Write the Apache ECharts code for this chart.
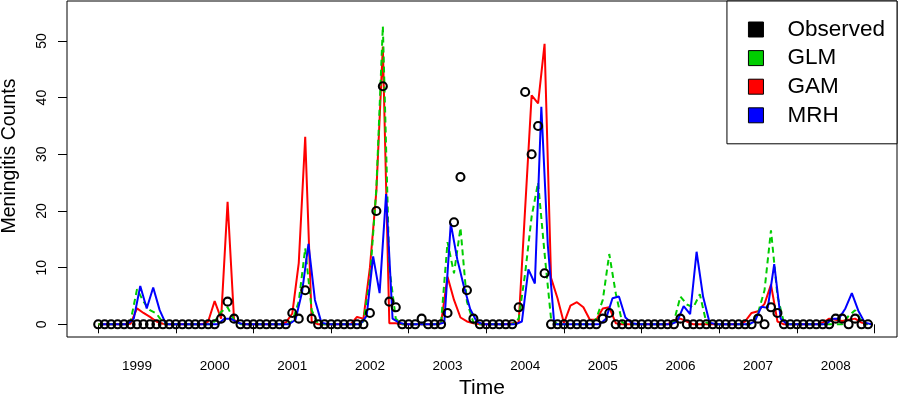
<!DOCTYPE html>
<html>
<head>
<meta charset="utf-8">
<script src="https://cdn.jsdelivr.net/npm/echarts@6/dist/echarts.min.js"></script>
<style>html,body{margin:0;padding:0;background:#fff}#c{width:899px;height:399px}</style>
</head>
<body>
<div id="c"></div>
<script>
// Tick labels
const yearLabels = ['1999','2000','2001','2002','2003','2004','2005','2006','2007','2008'];
const yTicks = [0, 10, 20, 30, 40, 50];
const startYear = 1999;

// Monthly observed meningitis counts, Jan 1999 .. Dec 2008 (one row per year)
const observed = [
  0,0,0,0,0,0,0,0,0,0,0,0,
  0,0,0,0,0,0,0,1,4,1,0,0,
  0,0,0,0,0,0,2,1,6,1,0,0,
  0,0,0,0,0,0,2,20,42,4,3,0,
  0,0,1,0,0,0,2,18,26,6,1,0,
  0,0,0,0,0,3,41,30,35,9,0,0,
  0,0,0,0,0,0,1,2,0,0,0,0,
  0,0,0,0,0,0,1,0,0,0,0,0,
  0,0,0,0,0,0,1,0,3,2,0,0,
  0,0,0,0,0,0,1,1,0,1,0,0
];
// GLM predictions
const glm = [
  0,0,0,0,0,0.5,6.2,4.0,2.5,1.9,0.3,0,
  0,0,0,0,0,0,0.5,2.2,3.0,0.8,0,0,
  0,0,0,0,0,0,0.5,4.0,13.4,2.5,0,0,
  0,0,0,0,0,0.5,8,24,52.6,10,1,0,
  0,0,0,0,0,0.3,14.5,9,17,4,0.3,0,
  0,0,0,0,0,1,9,19,25,12.5,1,0,
  0,0,0,0,0,1,4.3,12.4,5.5,0.3,0,0,
  0,0,0,0,0,0.5,4.9,3.5,3.0,5.3,0.3,0,
  0,0,0,0,0,0,2,6,16.6,5,0.3,0,
  0,0,0,0,0,0,0,0,1.5,2.5,0.5,0
];
// GAM predictions
const gam = [
  0,0,0,0,0,0.1,2.8,2.0,1.3,0.5,0.1,0,
  0,0,0,0,0,0.5,4.1,1.0,21.6,0.8,0.1,0,
  0,0,0,0,0,0.3,1.9,10.8,33.1,0.5,0,0,
  0,0,0,0,1.3,1.0,10,23.5,49,0.2,0.2,0,
  0,0,0,0,0,0.2,8.4,4.3,1.2,0.5,0.2,0,
  0,0,0,0,0.2,0.3,20.5,40.4,39,49.5,8.2,4.6,
  0.2,3.3,3.9,3.0,0.8,0.8,2.8,3.0,0.2,0,0,0,
  0,0,0,0,0,0.7,1.0,0.5,0,0,0,0,
  0,0,0,0,0.5,2.0,2.3,3.6,7.0,0.5,0,0,
  0,0,0,0,0.3,1.0,0.8,0.6,0.8,1.0,0.3,0
];
// MRH predictions (plotted at mid-month)
const mrh = [
  0,0,0,0,0,1.0,6.75,2.8,6.5,2.5,0,0,
  0,0,0,0,0,0,0,1,1,0.3,0,0,
  0,0,0,0,0,0,0.8,5.6,14.2,4.3,0.3,0,
  0,0,0,0,0,1.5,12,5.5,23,1,0.3,0,
  0,0,0,0,0,0.3,17.8,11.5,6.8,2.7,0.5,0,
  0,0,0,0,0,0.5,9.7,7.2,38.4,14,0,0,
  0,0,0,0,0,0,1,4.6,4.9,1.2,0.2,0,
  0,0,0,0,0,0.5,3.2,1.8,12.8,4.9,0.3,0,
  0,0,0,0,0,0.5,3.1,2.9,10.6,1.0,0,0,
  0,0,0,0,0,1,1,2.8,5.5,2.4,0.3,0
];

const FONT = "'Liberation Sans', Arial, Helvetica, sans-serif";
const monthTime = (i, off) => startYear + (i + off) / 12;
const pairs = (arr, off) => arr.map((v, i) => [monthTime(i, off), v]);
const tickYears = yearLabels.map(y => +y).concat([+yearLabels[yearLabels.length - 1] + 1]);
const labelPos = yearLabels.map(y => +y + 0.5);

const chart = echarts.init(document.getElementById('c'), null, {renderer: 'canvas'});
chart.setOption({
  animation: false,
  backgroundColor: '#fff',
  grid: {left: 67, right: 2, top: 1, bottom: 62, show: true, borderColor: '#000', borderWidth: 1, backgroundColor: 'transparent', containLabel: false, outerBoundsMode: 'none'},
  xAxis: {
    type: 'value', min: 1998.598, max: 2009.29,
    axisLine: {show: false}, splitLine: {show: false},
    axisTick: {show: true, length: 9, inside: false, lineStyle: {color: '#000', width: 1}, customValues: tickYears},
    axisLabel: {customValues: labelPos, formatter: v => yearLabels[Math.round(v - 0.5) - startYear], margin: 22, fontSize: 13.5, color: '#000', fontFamily: FONT},
    name: 'Time', nameLocation: 'middle', nameGap: 40,
    nameTextStyle: {fontSize: 21, color: '#000', fontFamily: FONT}
  },
  yAxis: {
    type: 'value', min: -2.24, max: 57.05,
    axisLine: {show: false}, splitLine: {show: false},
    axisTick: {show: true, length: 9, inside: false, lineStyle: {color: '#000', width: 1}, customValues: yTicks},
    axisLabel: {customValues: yTicks, rotate: 90, align: 'center', verticalAlign: 'bottom', margin: 18, fontSize: 14, color: '#000', fontFamily: FONT},
    name: 'Meningitis Counts', nameLocation: 'middle', nameGap: 47, nameRotate: 90,
    nameTextStyle: {fontSize: 19.5, color: '#000', fontFamily: FONT, padding: [0, 0, 0, 26]}
  },
  legend: {
    orient: 'vertical', right: 2, top: 1,
    padding: [17, 12, 17, 21], itemWidth: 15, itemHeight: 15, itemGap: 5.6,
    icon: 'rect', borderColor: '#000', borderWidth: 1, backgroundColor: '#fff',
    textStyle: {fontSize: 22.5, color: '#000', fontFamily: FONT, padding: [0, 0, 0, 19], lineHeight: 22},
    itemStyle: {borderColor: '#000', borderWidth: 1, opacity: 1},
    data: [
      {name: 'Observed', itemStyle: {color: '#000', opacity: 1}},
      {name: 'GLM', itemStyle: {color: '#00CD00', opacity: 1}},
      {name: 'GAM', itemStyle: {color: '#FF0000', opacity: 1}},
      {name: 'MRH', itemStyle: {color: '#0000FF', opacity: 1}}
    ]
  },
  series: [
    {name: 'GAM', type: 'line', data: pairs(gam, 0), showSymbol: false, symbol: 'none', z: 2,
     lineStyle: {color: '#FF0000', width: 2}, itemStyle: {color: '#FF0000'}},
    {name: 'GLM', type: 'line', data: pairs(glm, 0), showSymbol: false, symbol: 'none', z: 3,
     lineStyle: {color: '#00CD00', width: 2, type: [6, 4]}, itemStyle: {color: '#00CD00'}},
    {name: 'MRH', type: 'line', data: pairs(mrh, 0.5), showSymbol: false, symbol: 'none', z: 4,
     lineStyle: {color: '#0000FF', width: 2}, itemStyle: {color: '#0000FF'}},
    {name: 'Observed', type: 'scatter', data: pairs(observed, 0), symbol: 'circle', symbolSize: 8, z: 5,
     itemStyle: {color: 'rgba(0,0,0,0)', borderColor: '#000', borderWidth: 2.1, opacity: 1}}
  ]
});
</script>
</body>
</html>
